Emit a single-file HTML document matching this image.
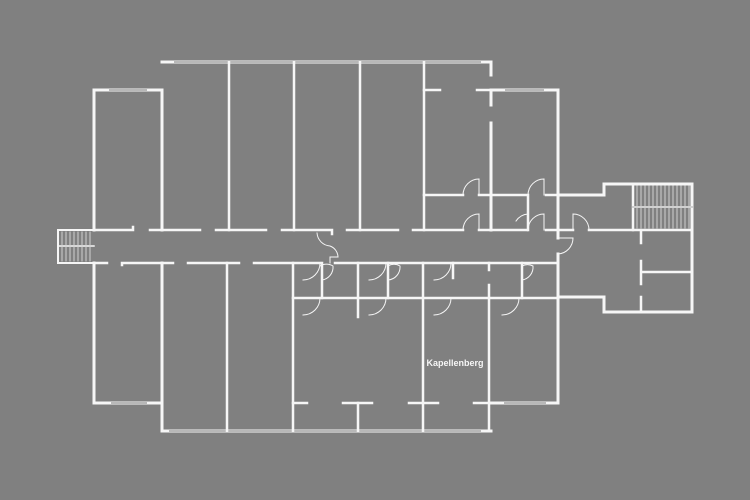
<!DOCTYPE html>
<html><head><style>html,body{margin:0;padding:0;background:#808080}svg{display:block}</style></head>
<body>
<svg width="750" height="500" viewBox="0 0 750 500" xmlns="http://www.w3.org/2000/svg">
<rect width="750" height="500" fill="#808080"/>
<g stroke="#f6f6f6" fill="none" stroke-linecap="square">
<g stroke-width="3">
<path d="M162 62 H491"/>
<path d="M94 230 V90 H162 V230"/>
<path d="M94 263 V403 H162"/>
<path d="M162 263 V431 H491"/>
<path d="M491 62 V75 M491 90 V105 M491 123 V230"/>
<path d="M491 90 H558 V238 M558 254 V403 H491"/>
<path d="M558 195 H604 V184 H692 V312 H604 V297 H558"/>
</g>
<g stroke="#b8b8b8" stroke-width="2">
<path d="M110 90 H146 M175 62 H480 M506 90 H543 M112 403 H146 M170 431 H480 M505 403 H545"/>
</g>
<g stroke-width="2.5">
<path d="M229 62 V230 M294 62 V230 M360 62 V230 M424 62 V230"/>
<path d="M424 90 H440 M477 90 H491"/>
<path d="M94 230 H133 V227 M150 230 H200 M216 230 H266 M282 230 H332 V234 M347 230 H398 M413 230 H463 M479 230 H527 M546 230 H573 M589 230 H633"/>
<path d="M424 195 H463 M479 195 H528 M546 195 H604 M528 195 V230"/>
<path d="M94 263 H107 M122 265 V263 H173 M188 263 H239 M254 263 H320 M335 263 H558"/>
<path d="M227 263 V431 M293 263 V431 M358 263 V317 M358 403 V431 M423 263 V431 M489 263 V270 M489 285 V431"/>
<path d="M293 298 H558"/>
<path d="M322 263 V298 M388 263 V298 M453 263 V278 M522 263 V298"/>
<path d="M293 403 H307 M343 403 H372 M409 403 H438 M474 403 H491"/>
<path d="M633 184 V230 H692 M641 230 V243 M641 261 V284 M641 297 V312 M641 272 H692"/>
</g>
<path d="M94 230 H58 V263 H94" stroke-width="2"/>
<path d="M58 246 H94" stroke-width="1.5"/>
<g stroke="#d0d0d0" stroke-width="1">
<path d="M62 232 V261 M66 232 V261 M70 232 V261 M74 232 V261 M78 232 V261 M82 232 V261 M86 232 V261 M90 232 V261"/>
<path d="M637 186 V228 M641 186 V228 M645 186 V228 M649 186 V228 M653 186 V228 M657 186 V228 M661 186 V228 M665 186 V228 M669 186 V228 M673 186 V228 M677 186 V228 M681 186 V228 M685 186 V228 M689 186 V228"/>
</g>
<path d="M633 207 H692" stroke="#d0d0d0" stroke-width="2"/>
<g stroke-width="1">
<path d="M463 195 A16 16 0 0 1 479 179 V195"/>
<path d="M463 230 A16 16 0 0 1 479 214 V230"/>
<path d="M528 195 A16 16 0 0 1 544 179 V195"/>
<path d="M528 230 A16 16 0 0 1 544 214 V230"/>
<path d="M516 221 A16 16 0 0 1 528 214"/>
<path d="M573 230 V214 A16 16 0 0 1 589 230"/>
<path d="M558 238 H573 A16 16 0 0 1 558 254"/>
<path d="M317 233 A14 14 0 0 0 330 246 A12 12 0 0 1 338 257 H330 V263"/>
<path d="M303 280 A17 17 0 0 0 320 263 M320 266 A12 12 0 0 1 333 266 A13 13 0 0 1 322 280"/>
<path d="M369 280 A17 17 0 0 0 386 263 M388 266 A12 12 0 0 1 400 266 A13 13 0 0 1 388 280"/>
<path d="M434 280 A17 17 0 0 0 451 263"/>
<path d="M522 266 A12 12 0 0 1 533 266 A13 13 0 0 1 522 280"/>
<path d="M303 315 A17 17 0 0 0 320 298 M369 315 A17 17 0 0 0 386 298 M434 315 A17 17 0 0 0 451 298 M502 315 A17 17 0 0 0 519 298"/>
</g>
</g>
<text x="455" y="366" text-anchor="middle" font-family="'Liberation Sans', sans-serif" font-size="9" font-weight="bold" fill="#f6f6f6">Kapellenberg</text>
</svg>
</body></html>
